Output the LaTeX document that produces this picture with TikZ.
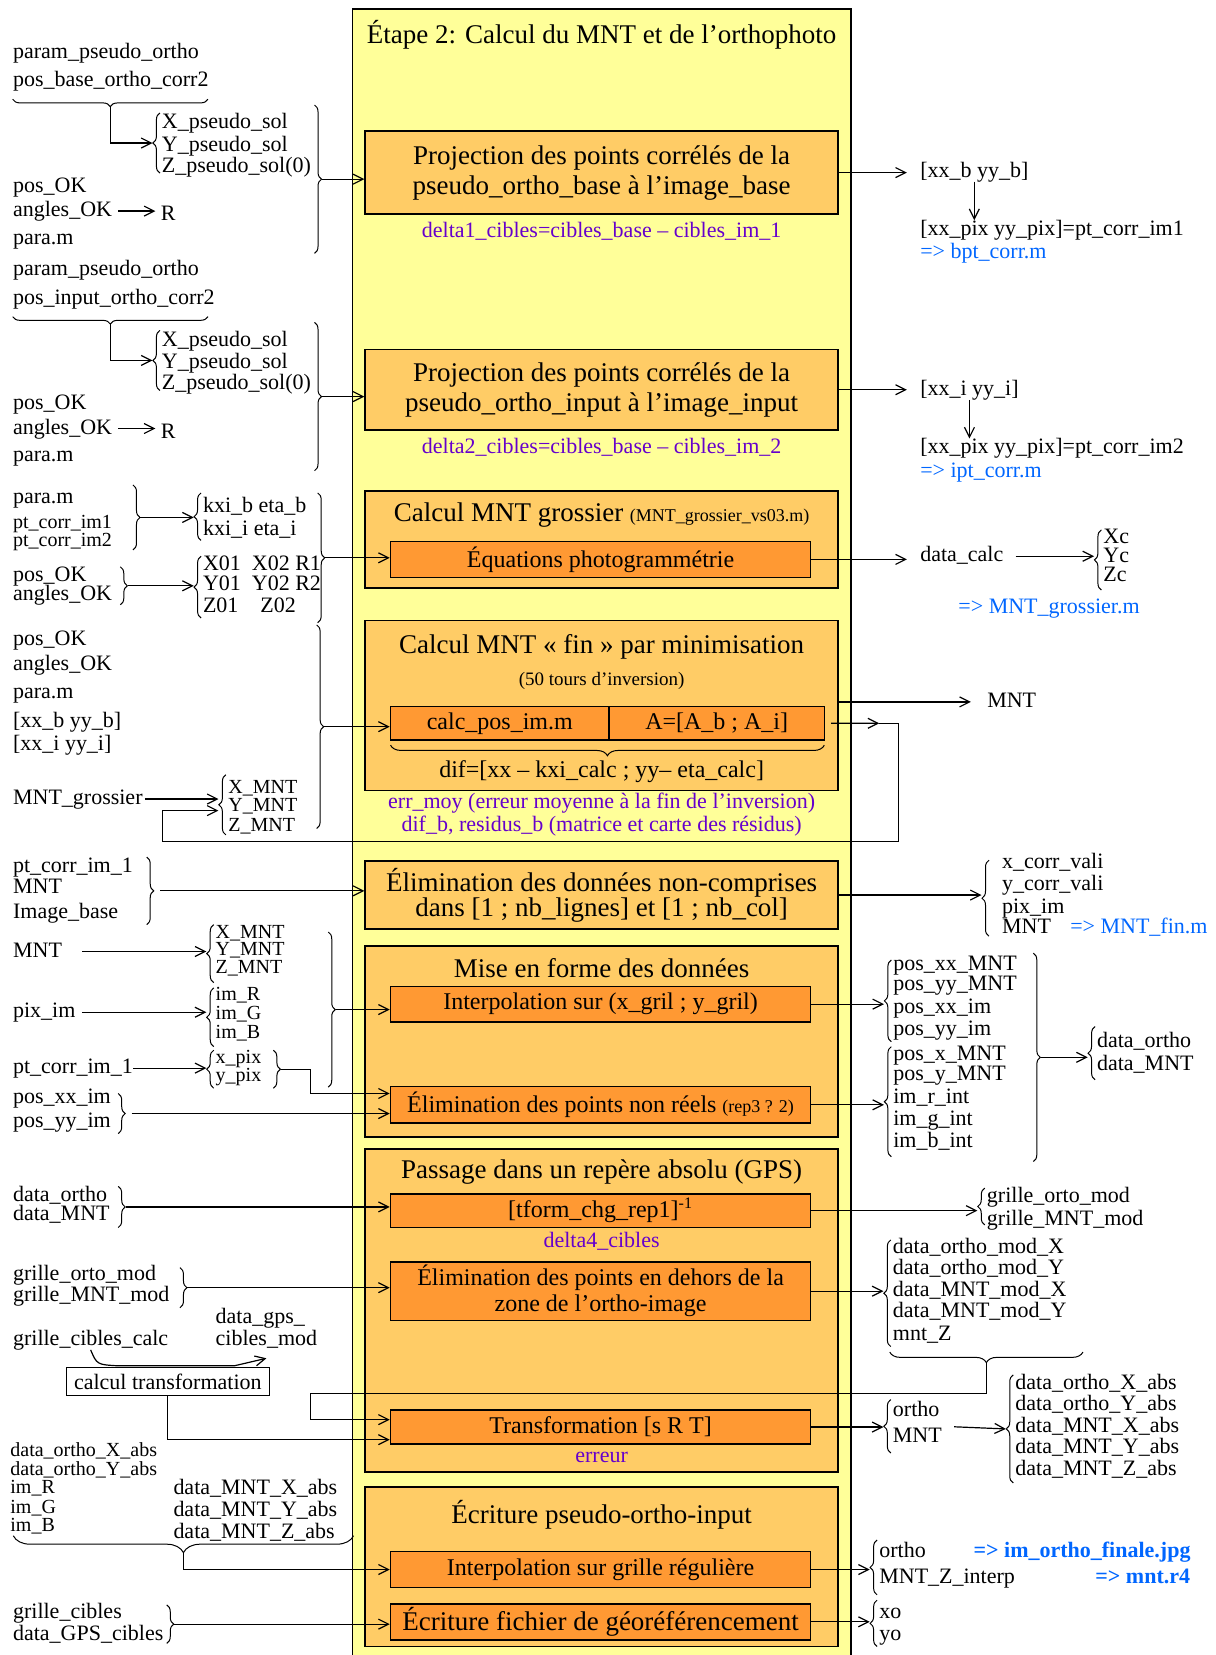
\documentclass[tikz,border=0pt]{standalone}
\usepackage{fontspec}
\setmainfont{Liberation Serif}
\usepackage{tikz}
\usetikzlibrary{arrows.meta, positioning, calc, fit, decorations.pathreplacing}
\definecolor{etapeyellow}{RGB}{255,255,153}
\definecolor{blocorange}{RGB}{255,204,102}
\definecolor{calcorange}{RGB}{255,153,51}
\definecolor{notepurple}{RGB}{102,0,204}
\definecolor{fileblue}{RGB}{0,102,255}

% accolades verticales : nom, x, y haut, y bas
\newcommand{\lbrc}[4]{\draw[brc] (#2,#4) -- (#2,#3);
  \coordinate (#1) at ({#2-7},{(#3+#4)/2});}
\newcommand{\rbrc}[4]{\draw[brc] (#2,#3) -- (#2,#4);
  \coordinate (#1) at ({#2+7},{(#3+#4)/2});}
% accolade horizontale : nom, y, x gauche, x droite, amplitude
\newcommand{\ubrc}[5]{\draw[brc, decoration={amplitude=#5*0.5278pt}] (#4,#2) -- (#3,#2);
  \coordinate (#1) at ({(#3+#4)/2},{#2+#5});}

\begin{document}
\begin{tikzpicture}[x=0.5278pt, y=-0.5278pt,
    txt/.style={anchor=west, inner sep=0pt, font=\fontsize{11}{13}\selectfont,
                text height=7.5pt, text depth=2pt},
    serre/.style={txt, font=\fontsize{10}{12}\selectfont, text height=6.8pt, text depth=1.6pt},
    fichier/.style={txt, text=fileblue},
    ttl/.style={font=\fontsize{13.5}{16}\selectfont, align=center, inner sep=0pt},
    calctxt/.style={font=\fontsize{12}{14}\selectfont, align=center, inner sep=0pt},
    note/.style={text=notepurple, font=\fontsize{11}{13}\selectfont, inner sep=0pt},
    etape/.style={draw, fill=etapeyellow, line width=0.8pt, inner sep=0pt},
    bloc/.style={draw, fill=blocorange, line width=0.8pt, inner sep=0pt},
    calcbox/.style={draw, fill=calcorange, line width=0.8pt, inner sep=0pt},
    arr/.style={-{Straight Barb[length=5pt,width=5pt]}, line width=0.6pt},
    brc/.style={decorate, decoration={brace, amplitude=3.5pt}, line width=0.5pt}]
    \useasboundingbox (0,0) rectangle (1152,1568);

    % Etape 2 frame
    \node[etape, fit={(334,8.5) (806,1580)}] (etape) {};
    \node[ttl] (etapeT) at (570,33) {Étape 2: Calcul du MNT et de l’orthophoto};

    % Blocs
    \node[bloc, fit={(346,124) (794,203)}] (proj1) {};
    \node[ttl] (proj1T) at (proj1) {Projection des points corrélés de la\\[-1pt]pseudo\_ortho\_base à l’image\_base};
    \node[note] (delta1) at (570,219) {delta1\_cibles=cibles\_base – cibles\_im\_1};
    \node[bloc, fit={(346,331) (794,407.5)}] (proj2) {};
    \node[ttl] (proj2T) at (proj2) {Projection des points corrélés de la\\[-1pt]pseudo\_ortho\_input à l’image\_input};
    \node[note] (delta2) at (570,424) {delta2\_cibles=cibles\_base – cibles\_im\_2};

    \node[bloc, fit={(346,465) (794,557)}] (grossier) {};
    \node[ttl] (grossierT) at (570,488)
        {Calcul MNT grossier {\fontsize{9}{11}\selectfont(MNT\_grossier\_vs03.m)}};
    \node[calcbox, fit={(370,513) (768,547)}] (equa) {};
    \node[calctxt] (equaT) at (equa) {Équations photogrammétrie};

    \node[bloc, fit={(346,588) (794,749)}] (fin) {};
    \node[ttl] (finT) at (570,613) {Calcul MNT « fin » par minimisation};
    \node[font=\fontsize{9.5}{11}\selectfont] (finS) at (570,645) {(50 tours d’inversion)};
    \node[calcbox, fit={(370,669.5) (577,701)}] (calcpos) {};
    \node[calctxt] (calcposT) at (calcpos) {calc\_pos\_im.m};
    \node[calcbox, fit={(577,669.5) (781,701)}] (Amat) {};
    \node[calctxt] (AmatT) at (Amat) {A=[A\_b ; A\_i]};
    \ubrc{difU}{706}{370}{781}{10}
    \node[calctxt] (dif) at (570,731) {dif=[xx – kxi\_calc ; yy– eta\_calc]};
    \node[note] (errmoy) at (570,761) {err\_moy (erreur moyenne à la fin de l’inversion)};
    \node[note] (difb) at (570,783) {dif\_b, residus\_b (matrice et carte des résidus)};

    \node[bloc, fit={(346,816) (794,880)}] (elimdon) {};
    \node[ttl] (elimdonT) at (elimdon)
        {Élimination des données non-comprises\\[-3.5pt]dans [1 ; nb\_lignes] et [1 ; nb\_col]};

    \node[bloc, fit={(346,896) (794,1077)}] (miseforme) {};
    \node[ttl] (miseformeT) at (570,917) {Mise en forme des données};
    \node[calcbox, fit={(370,934.7) (768,968)}] (interp) {};
    \node[calctxt] (interpT) at (interp) {Interpolation sur (x\_gril ; y\_gril)};
    \node[calcbox, fit={(370,1029.5) (768,1064)}] (elimreel) {};
    \node[calctxt] (elimreelT) at (elimreel)
        {Élimination des points non réels {\fontsize{9}{11}\selectfont(rep3 ? 2)}};

    \node[bloc, fit={(346,1088.5) (794,1394.5)}] (gps) {};
    \node[ttl] (gpsT) at (570,1110) {Passage dans un repère absolu (GPS)};
    \node[calcbox, fit={(370,1131) (768,1163)}] (tform) {};
    \node[calctxt] (tformT) at (tform) {[tform\_chg\_rep1]\textsuperscript{-1}};
    \node[note] (delta4) at (570,1176) {delta4\_cibles};
    \node[calcbox, fit={(370,1195.6) (768,1251)}] (elimzone) {};
    \node[calctxt] (elimzoneT) at (elimzone)
        {Élimination des points en dehors de la\\[-1pt]zone de l’ortho-image};
    \node[calcbox, fit={(370,1336) (768,1368)}] (transf) {};
    \node[calctxt] (transfT) at (transf) {Transformation [s R T]};
    \node[note] (erreur) at (570,1381) {erreur};

    \node[bloc, fit={(346,1409) (794,1560)}] (ecriture) {};
    \node[ttl] (ecritureT) at (570,1435) {Écriture pseudo-ortho-input};
    \node[calcbox, fit={(370,1470) (768,1504)}] (interpgr) {};
    \node[calctxt] (interpgrT) at (interpgr) {Interpolation sur grille régulière};
    \node[calcbox, fit={(370,1519.5) (768,1553.6)}] (georef) {};
    \node[ttl] (georefT) at (georef) {Écriture fichier de géoréférencement};

    % Entrees des projections
    \foreach \g/\dy/\src in {1/0/base, 2/206/input} {
        \foreach \t/\y [count=\k] in {param\_pseudo\_ortho/50, pos\_\src\_ortho\_corr2/77,
                pos\_OK/177, angles\_OK/200, para.m/226}
            \node[txt] (pe\g-\k) at (12,\y+\dy) {\t};
        \foreach \t/\y [count=\k] in {X\_pseudo\_sol/117, Y\_pseudo\_sol/138, Z\_pseudo\_sol(0)/158}
            \node[txt] (ps\g-\k) at (153,\y+\dy) {\t};
        \node[txt] (R\g) at (152,204+\dy) {R};
        \ubrc{pu\g}{94+\dy}{12}{197}{7}
        \lbrc{pl\g}{151.5}{107+\dy}{164+\dy}
        \rbrc{pr\g}{298}{99.5+\dy}{240+\dy}
        \draw[arr] (pu\g) |- (pl\g);
        \draw[arr, shorten <=3pt, shorten >=2.5pt] (pe\g-4.east) -- (pe\g-4.east -| R\g.west);
        \draw[arr] (pr\g) -- (pr\g -| proj\g.west);
    }

    % Entrees MNT grossier
    \node[txt] (gr1) at (12,472) {para.m};
    \node[serre] (gr2) at (12,496) {pt\_corr\_im1};
    \node[serre] (gr3) at (12,513) {pt\_corr\_im2};
    \node[txt] (gr4) at (12,546) {pos\_OK};
    \node[txt] (gr5) at (12,564) {angles\_OK};
    \node[txt] (kx1) at (192,480) {kxi\_b eta\_b};
    \node[txt] (kx2) at (192,502) {kxi\_i eta\_i};
    \node[txt] (xo1) at (192,535) {X01\enspace X02 R1};
    \node[txt] (xo2) at (192,554) {Y01\enspace Y02 R2};
    \node[txt] (xo3) at (192,575) {Z01\enspace\enspace Z02};
    \rbrc{grA}{126}{459.5}{521}
    \lbrc{grB}{190.5}{467}{512}
    \rbrc{grC}{114}{537}{573}
    \lbrc{grD}{190.5}{527}{585.5}
    \rbrc{grE}{301}{467}{590}
    \draw[arr] (grA) -- (grA -| grB);
    \draw[arr] (grC) -- (grC -| grD);
    \draw[arr] (grE) -- (grE -| equa.west);

    % Entrees MNT fin
    \foreach \t/\y [count=\k] in {pos\_OK/606, angles\_OK/630, para.m/657,
            {[xx\_b yy\_b]}/684, {[xx\_i yy\_i]}/706, MNT\_grossier/757}
        \node[txt] (fi\k) at (12,\y) {\t};
    \foreach \t/\y [count=\k] in {X\_MNT/747, Y\_MNT/764, Z\_MNT/783}
        \node[serre] (fm\k) at (216,\y) {\t};
    \rbrc{fiA}{300}{592}{785}
    \lbrc{fiB}{214}{734}{791}
    \draw[arr] (fiA) -- (fiA -| calcpos.west);
    \draw[arr, shorten <=1pt] (fi6.east) -- (fi6.east -| fiB);
    % boucle d'inversion
    \coordinate (fbA) at (833,685.25);
    \coordinate (fbR) at (851,797);
    \coordinate (fbL) at (154,797);
    \coordinate (fbC) at (207,768);
    \draw[arr, shorten <=3pt] (Amat.east) -- (fbA);
    \draw[arr] (fbA) -| (fbR) -- (fbL) |- (fbC);

    % Entrees elimination
    \foreach \t/\y [count=\k] in {pt\_corr\_im\_1/821, MNT/841, Image\_base/865}
        \node[txt] (el\k) at (12,\y) {\t};
    \rbrc{elA}{139}{812}{876}
    \draw[arr, shorten <=3pt] (elA) -- (elA -| elimdon.west);

    % Entrees mise en forme
    \foreach \t/\y [count=\k] in {MNT/901.5, pix\_im/959, pt\_corr\_im\_1/1012,
            pos\_xx\_im/1040, pos\_yy\_im/1063}
        \node[txt] (mf\k) at (12,\y) {\t};
    \foreach \t/\y [count=\k] in {X\_MNT/884, Y\_MNT/900, Z\_MNT/917, im\_R/942.6, im\_G/960.6,
            im\_B/978.7, x\_pix/1002.5, y\_pix/1020}
        \node[serre] (mv\k) at (204,\y) {\t};
    \lbrc{mfA}{202.5}{876}{931}
    \lbrc{mfB}{202.5}{936}{991.6}
    \lbrc{mfC}{202.5}{995}{1031}
    \rbrc{mfD}{259}{995}{1031}
    \rbrc{mfF}{112}{1036}{1074}
    \rbrc{mfG}{311}{883}{1030}
    \coordinate (mfE) at (294,1036);
    \draw[arr, shorten <=10pt] (mf1.east) -- (mf1.east -| mfA);
    \draw[arr, shorten <=3pt] (mf2.east) -- (mf2.east -| mfB);
    \draw[arr] (mf3.east) -- (mf3.east -| mfC);
    \draw[arr] (mfD) -| (mfE) -- (mfE -| elimreel.west);
    \draw[arr, shorten <=3pt] (mfF) -- (mfF -| elimreel.west);
    \draw[arr] (mfG) -- (mfG -| interp.west);

    % Entrees passage GPS
    \foreach \t/\y [count=\k] in {data\_ortho/1133, data\_MNT/1151, grille\_orto\_mod/1208,
            grille\_MNT\_mod/1228, grille\_cibles\_calc/1269.5}
        \node[txt] (gp\k) at (12,\y) {\t};
    \node[txt] (gp6) at (204,1249) {data\_gps\_};
    \node[txt] (gp7) at (204,1269.5) {cibles\_mod};
    \node[draw, fit={(63,1295.6) (255,1322)}, inner sep=0pt] (calcT) {};
    \node[font=\fontsize{11}{13}\selectfont, inner sep=0pt] (calcTT) at (calcT) {calcul transformation};
    \rbrc{gpA}{112}{1124}{1163}
    \rbrc{gpB}{170.5}{1201}{1239}
    \draw[arr] (gpA) -- (gpA -| tform.west);
    \draw[arr] (gpB) -- (gpB -| elimzone.west);
    \draw[arr] (gp5.south) .. controls ($(gp5.south)+(6,14)$) .. (112,1294) -- (222,1294)
        -- ($(gp7.south)+(0,8)$);
    \draw[arr] (calcT.south) |- ($(transf.west)+(0,12)$);

    % Entrees ecriture
    \foreach \t/\y [count=\k] in {data\_ortho\_X\_abs/1375, data\_ortho\_Y\_abs/1393,
            im\_R/1410, im\_G/1429, im\_B/1446}
        \node[serre] (ec\k) at (9.5,\y) {\t};
    \foreach \t/\y [count=\k] in {data\_MNT\_X\_abs/1411, data\_MNT\_Y\_abs/1432, data\_MNT\_Z\_abs/1452}
        \node[txt] (em\k) at (164,\y) {\t};
    \node[txt] (gc1) at (12,1528) {grille\_cibles};
    \node[txt] (gc2) at (12,1549) {data\_GPS\_cibles};
    \ubrc{ecU}{1455}{12.6}{335}{16}
    \rbrc{ecB}{158}{1520.5}{1557}
    \draw[arr] (ecU) |- (interpgr.west);
    \draw[arr] (ecB) -- (ecB -| georef.west);

    % Sorties projections
    \foreach \g/\dy/\c/\f in {1/0/b/bpt, 2/206.9/i/ipt} {
        \node[txt] (xx\g) at (871.5,162.6+\dy) {[xx\_\c\ yy\_\c]};
        \node[txt] (px\g) at (871.5,218+\dy) {[xx\_pix yy\_pix]=pt\_corr\_im\g};
        \node[fichier] (fm\g) at (871.5,240+\dy) {=> \f\_corr.m};
        \draw[arr, shorten >=6.5pt] (proj\g.east) -- (proj\g.east -| xx\g.west);
        \draw[arr] (xx\g.south) -- (xx\g.south |- px\g.north);
    }

    % Sorties MNT grossier
    \node[txt] (calcD) at (871.5,527) {data\_calc};
    \foreach \t/\y [count=\k] in {Xc/510, Yc/528, Zc/546}
        \node[txt] (xyz\k) at (1045,\y) {\t};
    \node[fichier] (mntg) at (907.7,576) {=> MNT\_grossier.m};
    \lbrc{xyzc}{1043.5}{502}{559}
    \draw[arr, shorten >=6.5pt] (equa.east) -- (equa.east -| calcD.west);
    \draw[arr, shorten <=6pt] (calcD.east) -- (calcD.east -| xyzc);

    % Sortie MNT fin
    \node[txt] (mntF) at (935,665) {MNT};
    \draw[arr, shorten >=8pt] (fin.east |- mntF) -- (mntF.west);

    % Sorties elimination
    \foreach \t/\y [count=\k] in {x\_corr\_vali/818, y\_corr\_vali/838.4, pix\_im/860, MNT/879}
        \node[txt] (va\k) at (949,\y) {\t};
    \node[fichier] (mntfin) at (1013.6,879) {=> MNT\_fin.m};
    \lbrc{vali}{937}{815}{887}
    \draw[arr] (elimdon.east) -- (elimdon.east -| vali);

    % Sorties mise en forme
    \foreach \t/\y [count=\k] in {pos\_xx\_MNT/914, pos\_yy\_MNT/933, pos\_xx\_im/955, pos\_yy\_im/976,
            pos\_x\_MNT/999.5, pos\_y\_MNT/1018.4, im\_r\_int/1040, im\_g\_int/1061, im\_b\_int/1081.6}
        \node[txt] (po\k) at (846,\y) {\t};
    \node[txt] (dat1) at (1039,987) {data\_ortho};
    \node[txt] (dat2) at (1039,1009) {data\_MNT};
    \lbrc{mfR1}{844.5}{909.5}{987}
    \lbrc{mfR2}{844.5}{991.6}{1096}
    \rbrc{mfR3}{979}{903}{1100.5}
    \lbrc{mfR4}{1037.5}{972.6}{1023}
    \draw[arr] (interp.east) -- (interp.east -| mfR1);
    \draw[arr] (elimreel.east) -- (elimreel.east -| mfR2);
    \draw[arr] (mfR3) -- (mfR3 -| mfR4);

    % Sorties passage GPS
    \node[txt] (go1) at (934.7,1133.6) {grille\_orto\_mod};
    \node[txt] (go2) at (934.7,1156) {grille\_MNT\_mod};
    \foreach \t/\y [count=\k] in {data\_ortho\_mod\_X/1182.6, data\_ortho\_mod\_Y/1202,
            data\_MNT\_mod\_X/1222.7, data\_MNT\_mod\_Y/1242.6, mnt\_Z/1264.7}
        \node[txt] (dm\k) at (845.6,\y) {\t};
    \node[txt] (tr1) at (845.6,1336.4) {ortho};
    \node[txt] (tr2) at (845.6,1361.4) {MNT};
    \foreach \t/\y [count=\k] in {data\_ortho\_X\_abs/1311, data\_ortho\_Y\_abs/1331,
            data\_MNT\_X\_abs/1352, data\_MNT\_Y\_abs/1372, data\_MNT\_Z\_abs/1392.6}
        \node[txt] (ab\k) at (961.6,\y) {\t};
    \lbrc{grl}{933}{1125.6}{1160.5}
    \lbrc{modR}{844}{1174.7}{1275.8}
    \ubrc{zoneU}{1281}{843}{1026}{10}
    \lbrc{trR}{844}{1326}{1376.6}
    \lbrc{absR}{960}{1302.6}{1405}
    \coordinate (retour) at (294,1320.6);
    \draw[arr] (tform.east) -- (tform.east -| grl);
    \draw[arr] (elimzone.east) -- (elimzone.east -| modR);
    \draw[arr] (zoneU) |- (retour) |- ($(transf.west)+(0,-7)$);
    \draw[arr] (transf.east) -- (transf.east -| trR);
    \draw[arr, shorten <=6pt] (trR -| tr2.east) -- (absR);

    % Sorties ecriture
    \node[txt] (or1) at (832.7,1470) {ortho};
    \node[txt] (or2) at (832.7,1495) {MNT\_Z\_interp};
    \node[fichier, font=\fontsize{11}{13}\selectfont\bfseries] (jpg) at (922,1470) {=> im\_ortho\_finale.jpg};
    \node[fichier, font=\fontsize{11}{13}\selectfont\bfseries] (r4) at (1037.4,1495) {=> mnt.r4};
    \node[txt] (xo) at (832.7,1528) {xo};
    \node[txt] (yo) at (832.7,1549) {yo};
    \lbrc{finR1}{831}{1459}{1511}
    \lbrc{finR2}{831}{1516}{1560}
    \draw[arr] (interpgr.east) -- (interpgr.east -| finR1);
    \draw[arr] (georef.east) -- (georef.east -| finR2);
\end{tikzpicture}
\end{document}
